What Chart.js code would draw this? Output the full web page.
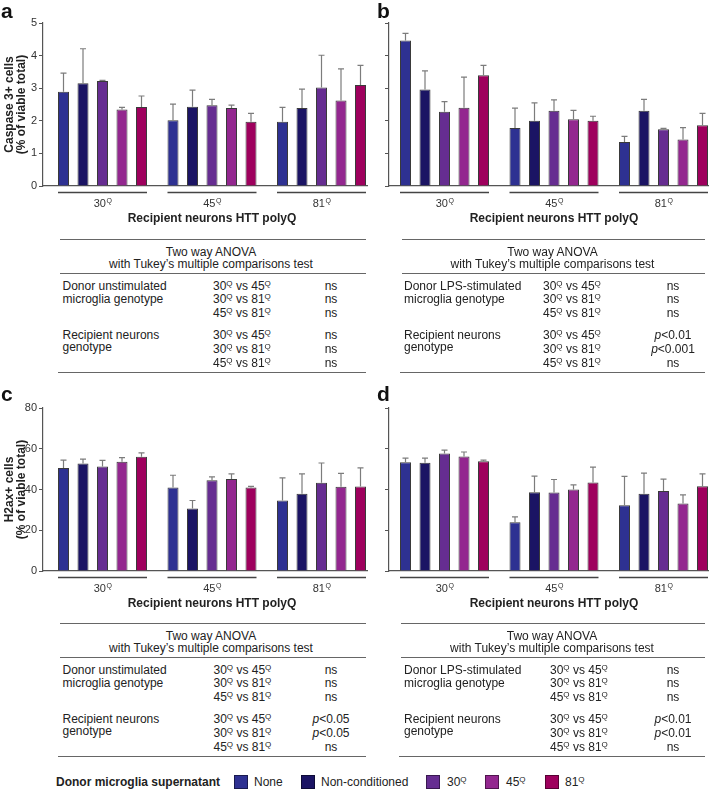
<!DOCTYPE html>
<html><head><meta charset="utf-8">
<script src="https://cdn.jsdelivr.net/npm/chart.js@4"></script>
<style>
html,body{margin:0;padding:0;background:#fff;}
#wrap{position:relative;width:709px;height:791px;overflow:hidden;font-family:'Liberation Sans',Arial,sans-serif;color:#222;}
canvas{position:absolute;}
.t{position:absolute;white-space:nowrap;font-size:12px;line-height:14px;}
.hl{position:absolute;height:0;border-top:1.4px solid #666;}
sup{font-size:8px;vertical-align:0;position:relative;top:-4px;line-height:0;}
.lt{position:absolute;font-weight:bold;font-size:21px;line-height:21px;color:#111;}
.lb{position:absolute;width:12px;height:12px;border:1px solid rgba(0,0,0,0.45);}
</style></head><body><div id="wrap"></div>
<script>
// ---------- data ----------
const groupLabels = ['30', '45', '81'];          // recipient neurons HTT polyQ (superscript Q)
const xTitle = 'Recipient neurons HTT polyQ';
const seriesNames = ['None', 'Non-conditioned', '30Q', '45Q', '81Q'];
const seriesColors = ['#2e3192', '#1b1464', '#662d91', '#93278f', '#9e005d'];

const casYTicks = [0, 1, 2, 3, 4, 5];
const h2axYTicks = [0, 20, 40, 60, 80];

// rows: None, Non-conditioned, 30Q, 45Q, 81Q ; columns: 30Q, 45Q, 81Q recipient
const casUnstimMean = [[2.89,2.02,1.97],[3.15,2.43,2.39],[3.22,2.48,3.02],[2.35,2.39,2.62],[2.42,1.97,3.10]];
const casUnstimErr  = [[0.57,0.49,0.44],[1.06,0.51,0.58],[0.02,0.18,0.99],[0.06,0.09,0.97],[0.34,0.26,0.60]];
const casLpsMean    = [[4.46,1.78,1.35],[2.96,2.00,2.31],[2.28,2.31,1.74],[2.40,2.05,1.43],[3.40,2.00,1.86]];
const casLpsErr     = [[0.22,0.61,0.17],[0.57,0.55,0.35],[0.31,0.33,0.03],[0.94,0.27,0.36],[0.30,0.14,0.37]];
const h2axUnstimMean = [[50.5,41.0,34.6],[52.8,30.7,37.9],[51.3,44.6,43.3],[53.6,45.2,41.3],[56.1,41.0,41.5]];
const h2axUnstimErr  = [[3.9,6.0,11.1],[2.1,3.9,9.8],[3.0,1.6,9.7],[2.0,2.5,6.6],[1.9,0.5,9.1]];
const h2axLpsMean    = [[53.4,23.9,32.3],[53.1,38.7,37.9],[57.7,38.5,39.3],[56.2,40.0,33.1],[53.9,43.4,41.6]];
const h2axLpsErr     = [[2.0,2.7,14.1],[2.3,7.9,10.1],[1.6,6.4,5.8],[2.2,2.3,4.3],[0.5,7.6,6.1]];

const comparisons = ['30Q vs 45Q', '30Q vs 81Q', '45Q vs 81Q'];
const resA_microglia = ['ns', 'ns', 'ns'];
const resA_neurons   = ['ns', 'ns', 'ns'];
const resB_microglia = ['ns', 'ns', 'ns'];
const resB_neurons   = ['p<0.01', 'p<0.001', 'ns'];
const resC_microglia = ['ns', 'ns', 'ns'];
const resC_neurons   = ['p<0.05', 'p<0.05', 'ns'];
const resD_microglia = ['ns', 'ns', 'ns'];
const resD_neurons   = ['p<0.01', 'p<0.01', 'ns'];

// ---------- helpers ----------
const FONT = "'Liberation Sans', Arial, sans-serif";
Chart.defaults.font.family = FONT;
const wrap = document.getElementById('wrap');
function supQ(s) { return s.replace(/(\d+)Q/g, '$1<sup>Q</sup>'); }
function fmtRes(s) { return s.replace(/^p</, '<i>p</i>&lt;'); }
function addDiv(cls, left, top, html, extra) {
  const d = document.createElement('div');
  d.className = cls; d.style.left = left + 'px'; d.style.top = top + 'px';
  if (html !== undefined) d.innerHTML = html;
  if (extra) Object.assign(d.style, extra);
  wrap.appendChild(d); return d;
}

const errorBars = {
  id: 'errorBars',
  afterDatasetsDraw(chart) {
    const {ctx} = chart; const ys = chart.scales.y;
    ctx.save(); ctx.strokeStyle = '#7c7c7c'; ctx.lineWidth = 1.2;
    chart.data.datasets.forEach((ds, di) => {
      const meta = chart.getDatasetMeta(di);
      meta.data.forEach((bar, i) => {
        const v = ds.data[i].y, e = ds.errors[i];
        const y0 = ys.getPixelForValue(v), y1 = ys.getPixelForValue(v + e);
        ctx.beginPath();
        ctx.moveTo(bar.x, y0); ctx.lineTo(bar.x, y1);
        ctx.moveTo(bar.x - 3, y1); ctx.lineTo(bar.x + 3, y1);
        ctx.stroke();
      });
    });
    ctx.restore();
  }
};

const groupDeco = {
  id: 'groupDeco',
  afterDraw(chart) {
    const {ctx, chartArea} = chart; const xs = chart.scales.x;
    const b = chartArea.bottom;
    ctx.save();
    groupLabels.forEach((g, i) => {
      const cx = xs.getPixelForValue(i);
      ctx.strokeStyle = '#444'; ctx.lineWidth = 1.3;
      ctx.beginPath(); ctx.moveTo(cx - 44.5, b + 6.5); ctx.lineTo(cx + 44.5, b + 6.5); ctx.stroke();
      ctx.fillStyle = '#333'; ctx.textAlign = 'left'; ctx.textBaseline = 'alphabetic';
      ctx.font = '11px ' + FONT; const w1 = ctx.measureText(g).width;
      ctx.font = '7px ' + FONT; const w2 = ctx.measureText('Q').width;
      const sx = cx - (w1 + w2) / 2;
      ctx.font = '11px ' + FONT; ctx.fillText(g, sx, b + 20.7);
      ctx.font = '7px ' + FONT; ctx.fillText('Q', sx + w1 + 0.5, b + 17);
    });
    ctx.font = 'bold 12px ' + FONT; ctx.fillStyle = '#222'; ctx.textAlign = 'center';
    ctx.fillText(xTitle, xs.getPixelForValue(1), b + 36);
    ctx.restore();
  }
};

function makePanel(p) {
  const cv = document.createElement('canvas');
  cv.width = p.width; cv.height = p.height;
  cv.style.left = p.left + 'px'; cv.style.top = p.top + 'px';
  cv.style.width = p.width + 'px'; cv.style.height = p.height + 'px';
  wrap.appendChild(cv);
  const axisX = 43, spacing = 109.5, bottom = 186, topPad = 23;
  const chartRight = p.width - p.rightPad;
  const xmin = -(p.c0 - axisX) / spacing;
  const xmax = 2 + (chartRight - (p.c0 + 2 * spacing)) / spacing;
  const ticks = p.yTicks;
  new Chart(cv, {
    type: 'bar',
    data: {
      datasets: seriesNames.map((n, si) => ({
        label: n,
        data: p.means[si].map((v, i) => ({x: i, y: v})),
        errors: p.errs[si],
        backgroundColor: seriesColors[si],
        borderColor: '#3a3a3a', borderWidth: 1,
        categoryPercentage: 19.5 * 5 / spacing,
        barPercentage: 11 / 19.5
      }))
    },
    options: {
      responsive: false, animation: false, devicePixelRatio: 1,
      layout: {padding: {top: topPad, right: p.rightPad, bottom: 0, left: 0}},
      plugins: {legend: {display: false}, tooltip: {enabled: false}},
      scales: {
        x: {
          type: 'linear', min: xmin, max: xmax, offset: false,
          grid: {display: false}, ticks: {display: false},
          border: {display: true, color: '#555', width: 1.2},
          afterBuildTicks(s) { s.ticks = groupLabels.map((g, i) => ({value: i})); },
          afterFit(s) { s.height = p.height - bottom; }
        },
        y: {
          min: ticks[0], max: ticks[ticks.length - 1],
          ticks: {stepSize: ticks[1] - ticks[0], padding: 2, color: '#333', font: {size: 11},
                  callback: p.showLabels ? (v) => v : () => ''},
          grid: {display: true, drawOnChartArea: false, drawTicks: true, tickLength: 4, color: '#555', lineWidth: 1},
          border: {display: true, color: '#555', width: 1.2},
          title: {display: !!p.yTitle, text: p.yTitle, color: '#222',
                  font: {size: 12, weight: 'bold', lineHeight: 1}, padding: {top: 4, bottom: 0}},
          afterFit(s) { s.width = axisX; }
        }
      }
    },
    plugins: [errorBars, groupDeco]
  });
}

makePanel({left: 0, top: 0, width: 370, height: 230, rightPad: 3, c0: 102.5, yTicks: casYTicks,
  showLabels: true, yTitle: ['Caspase 3+ cells', '(% of viable total)'], means: casUnstimMean, errs: casUnstimErr});
makePanel({left: 346, top: 0, width: 363, height: 230, rightPad: 0, c0: 98.5, yTicks: casYTicks,
  showLabels: false, yTitle: null, means: casLpsMean, errs: casLpsErr});
makePanel({left: 0, top: 385, width: 370, height: 230, rightPad: 3, c0: 102.5, yTicks: h2axYTicks,
  showLabels: true, yTitle: ['H2ax+ cells', '(% of viable total)'], means: h2axUnstimMean, errs: h2axUnstimErr});
makePanel({left: 346, top: 385, width: 363, height: 230, rightPad: 0, c0: 98.5, yTicks: h2axYTicks,
  showLabels: false, yTitle: null, means: h2axLpsMean, errs: h2axLpsErr});

// panel letters
addDiv('lt', 1, 0, 'a'); addDiv('lt', 377, 0, 'b');
addDiv('lt', 1, 383, 'c'); addDiv('lt', 377, 383, 'd');

// ---------- tables ----------
function makeTable(t) {
  const T = t.top;
  addDiv('hl', t.x0, T, undefined, {width: (t.x1 - t.x0) + 'px'});
  addDiv('hl', t.x0, T + 34, undefined, {width: (t.x1 - t.x0) + 'px'});
  addDiv('hl', t.x0 - 2, T + 133, undefined, {width: (t.x1 - t.x0 + 2) + 'px'});
  const hw = 300;
  addDiv('t', t.headCX - hw / 2, T + 12.4 - 7, 'Two way ANOVA', {width: hw + 'px', textAlign: 'center'});
  addDiv('t', t.headCX - hw / 2, T + 25 - 7, 'with Tukey\u2019s multiple comparisons test', {width: hw + 'px', textAlign: 'center'});
  const rows = [46.2, 60, 73.8, 95.2, 109.2, 123.4];
  addDiv('t', t.labelX, T + rows[0] - 7, t.micLabel[0]);
  addDiv('t', t.labelX, T + rows[0] + 13.3 - 7, t.micLabel[1]);
  addDiv('t', t.labelX, T + rows[3] - 7, 'Recipient neurons');
  addDiv('t', t.labelX, T + rows[3] + 12.5 - 7, 'genotype');
  const res = t.mic.concat(t.neu);
  comparisons.concat(comparisons).forEach((c, i) => {
    addDiv('t', t.compX, T + rows[i] - 7, supQ(c));
    addDiv('t', t.valCX - 40, T + rows[i] - 7, fmtRes(res[i]), {width: '80px', textAlign: 'center'});
  });
}
makeTable({x0: 60, x1: 366, top: 239.3, headCX: 211, labelX: 62.5, compX: 213, valCX: 331,
  micLabel: ['Donor unstimulated', 'microglia genotype'], mic: resA_microglia, neu: resA_neurons});
makeTable({x0: 401.5, x1: 705, top: 239.3, headCX: 552.5, labelX: 404, compX: 543, valCX: 673,
  micLabel: ['Donor LPS-stimulated', 'microglia genotype'], mic: resB_microglia, neu: resB_neurons});
makeTable({x0: 60, x1: 366, top: 623.3, headCX: 211, labelX: 62.5, compX: 213.5, valCX: 331,
  micLabel: ['Donor unstimulated', 'microglia genotype'], mic: resC_microglia, neu: resC_neurons});
makeTable({x0: 401, x1: 705, top: 623.3, headCX: 552, labelX: 404, compX: 550, valCX: 673,
  micLabel: ['Donor LPS-stimulated', 'microglia genotype'], mic: resD_microglia, neu: resD_neurons});

// ---------- legend ----------
addDiv('t', 56, 782 - 7, 'Donor microglia supernatant', {fontWeight: 'bold'});
const legBoxX = [234, 301, 426, 485, 545];
const legTextX = [254, 321, 447, 506, 565];
seriesNames.forEach((n, i) => {
  addDiv('lb', legBoxX[i], 775, undefined, {background: seriesColors[i]});
  addDiv('t', legTextX[i], 782 - 7, supQ(n));
});
</script></body></html>
